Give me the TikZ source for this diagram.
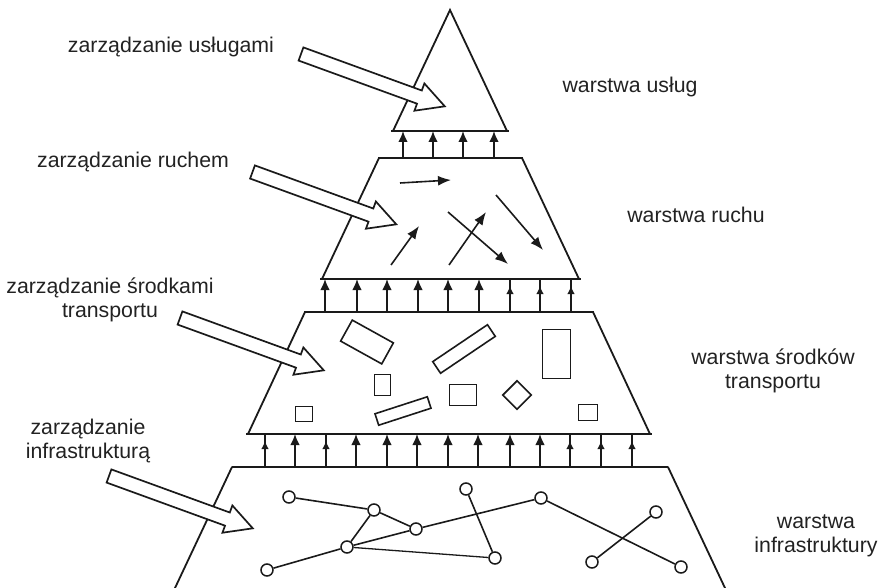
\documentclass[tikz,border=0pt]{standalone}
\usepackage{fontspec}
\setmainfont{Liberation Sans}
\usetikzlibrary{arrows.meta}
\definecolor{inkc}{HTML}{1A1A1A}
\definecolor{txt}{HTML}{222222}

% hollow management arrow, tail centre given by a named coordinate
\newcommand{\mgmtarrow}[1]{%
  \begin{scope}[shift={(#1)}, rotate=-20]
    \draw[blockarr] (0,-7) -- (126,-7) -- (126,-14.5) -- (153,0)
      -- (126,14.5) -- (126,7) -- (0,7) -- cycle;
  \end{scope}}

\begin{document}
\begin{tikzpicture}[x=1pt, y=-1pt,
  side/.style={draw=inkc, line width=1.8pt, line cap=round},
  sep/.style={draw=inkc, line width=2.4pt},
  uparrow/.style={draw=inkc, line width=1.6pt, -{Latex[length=11pt,width=9.5pt]}},
  uparrowsm/.style={draw=inkc, line width=1.4pt, -{Latex[length=8pt,width=7.5pt]}},
  shaft/.style={draw=inkc, line width=1.4pt},
  flow/.style={draw=inkc, line width=1.6pt, -{Latex[length=13pt,width=10pt]}},
  vehicle/.style={draw=inkc, line width=1.6pt, inner sep=0pt, fill=white},
  hub/.style={circle, draw=inkc, fill=white, line width=1.5pt, minimum size=12pt, inner sep=0pt},
  road/.style={draw=inkc, line width=1.6pt},
  blockarr/.style={draw=inkc, line width=1.7pt, fill=white, line join=miter},
  lbl/.style={text=txt, font=\fontsize{21.3}{24}\selectfont, align=center, inner sep=0pt},
]
\useasboundingbox (0,0) rectangle (880,588);

% ---------- service layer (triangle) ----------
\coordinate (sA) at (450,10);
\coordinate (sL) at (393,131);
\coordinate (sR) at (507,131);
\draw[side] (sL) -- (sA) -- (sR);
\draw[sep] (391,131) -- (509,131);

% ---------- traffic layer ----------
\draw[sep] (378,158) -- (523,158);
\draw[side] (379,158) -- (322,279);
\draw[side] (522,158) -- (579,279);
\draw[sep] (320,279) -- (581,279);

% ---------- vehicle layer ----------
\draw[sep] (304,312) -- (594,312);
\draw[side] (305,312) -- (248,434);
\draw[side] (593,312) -- (650,434);
\draw[sep] (246,434) -- (652,434);

% ---------- infrastructure layer ----------
\draw[sep] (232,467) -- (668,467);
\draw[side] (232,467) -- (175,588);
\draw[side] (668,467) -- (725,588);

% ---------- upward arrows between layers ----------
\foreach \x [count=\i] in {403,433,463,494}{
  \coordinate (rs\i) at (\x,158);
  \coordinate (sr\i) at (\x,131);
  \draw[uparrow] (rs\i) -- (sr\i);
}
\foreach \x/\t [count=\i] in {325/0,357/0,387/0,418/0,448/0,479/0,510/1,540/1,571/1}{
  \coordinate (vr\i) at (\x,312);
  \coordinate (rv\i) at (\x,279);
  \ifnum\t=1
    \coordinate (rvh\i) at (\x,286);
    \draw[shaft] (vr\i) -- (rv\i);
    \draw[uparrowsm] (vr\i) -- (rvh\i);
  \else
    \draw[uparrow] (vr\i) -- (rv\i);
  \fi
}
\foreach \x/\t [count=\i] in {265/1,295/0,326/1,356/0,387/0,417/0,448/0,478/0,510/0,540/0,570/1,601/1,632/1}{
  \coordinate (iv\i) at (\x,467);
  \coordinate (vi\i) at (\x,434);
  \ifnum\t=1
    \coordinate (vih\i) at (\x,441);
    \draw[shaft] (iv\i) -- (vi\i);
    \draw[uparrowsm] (iv\i) -- (vih\i);
  \else
    \draw[uparrow] (iv\i) -- (vi\i);
  \fi
}

% ---------- traffic flows ----------
\coordinate (f1a) at (400,183); \coordinate (f1b) at (451,180);
\coordinate (f2a) at (391,265); \coordinate (f2b) at (419,226);
\coordinate (f3a) at (449,265); \coordinate (f3b) at (486,212);
\coordinate (f4a) at (448,212); \coordinate (f4b) at (508,264);
\coordinate (f5a) at (496,195); \coordinate (f5b) at (543,250);
\foreach \k in {1,...,5}{ \draw[flow] (f\k a) -- (f\k b); }

% ---------- vehicles ----------
\node[vehicle, minimum width=47pt, minimum height=24pt, rotate=-29] (v1) at (367,342) {};
\node[vehicle, minimum width=66pt, minimum height=14pt, rotate=34] (v2) at (464,349) {};
\node[vehicle, minimum width=28pt, minimum height=49pt] (v3) at (556.5,354) {};
\node[vehicle, minimum width=16pt, minimum height=21pt] (v4) at (382.5,385) {};
\node[vehicle, minimum width=27pt, minimum height=21pt] (v5) at (463,395) {};
\node[vehicle, minimum width=20pt, minimum height=20pt, rotate=45] (v6) at (517,395) {};
\node[vehicle, minimum width=17pt, minimum height=15pt] (v7) at (304,414) {};
\node[vehicle, minimum width=55pt, minimum height=12pt, rotate=18] (v8) at (403,411) {};
\node[vehicle, minimum width=19pt, minimum height=16pt] (v9) at (588,412.5) {};

% ---------- infrastructure network ----------
\node[hub] (n1) at (289,497) {};
\node[hub] (n2) at (374,510) {};
\node[hub] (n3) at (416,529) {};
\node[hub] (n4) at (347,547) {};
\node[hub] (n5) at (267,570) {};
\node[hub] (n6) at (466,489) {};
\node[hub] (n7) at (495,558) {};
\node[hub] (n8) at (541,498) {};
\node[hub] (n9) at (656,512) {};
\node[hub] (n10) at (592,562) {};
\node[hub] (n11) at (681,567) {};
\draw[road] (n1) -- (n2);
\draw[road] (n2) -- (n3);
\draw[road] (n2) -- (n4);
\draw[road] (n4) -- (n3);
\draw[road] (n3) -- (n8);
\draw[road] (n5) -- (n4);
\draw[road, line width=1.3pt] (n4) -- (n7);
\draw[road] (n6) -- (n7);
\draw[road] (n8) -- (n11);
\draw[road] (n9) -- (n10);

% ---------- management arrows ----------
\coordinate (tS) at (301,54);
\coordinate (tR) at (252.5,172);
\coordinate (tV) at (180,318);
\coordinate (tI) at (109,476);
\mgmtarrow{tS}
\mgmtarrow{tR}
\mgmtarrow{tV}
\mgmtarrow{tI}

% ---------- labels ----------
\node[lbl] (mS) at (171,47) {zarządzanie usługami};
\node[lbl] (mR) at (133,162) {zarządzanie ruchem};
\node[lbl] (mV) at (110,300) {zarządzanie środkami\\transportu};
\node[lbl] (mI) at (88,441) {zarządzanie\\infrastrukturą};
\node[lbl] (lS) at (630,87) {warstwa usług};
\node[lbl] (lR) at (696,215) {warstwa ruchu};
\node[lbl] (lV) at (773,371) {warstwa środków\\transportu};
\node[lbl] (lI) at (816,536) {warstwa\\infrastruktury};
\end{tikzpicture}
\end{document}
